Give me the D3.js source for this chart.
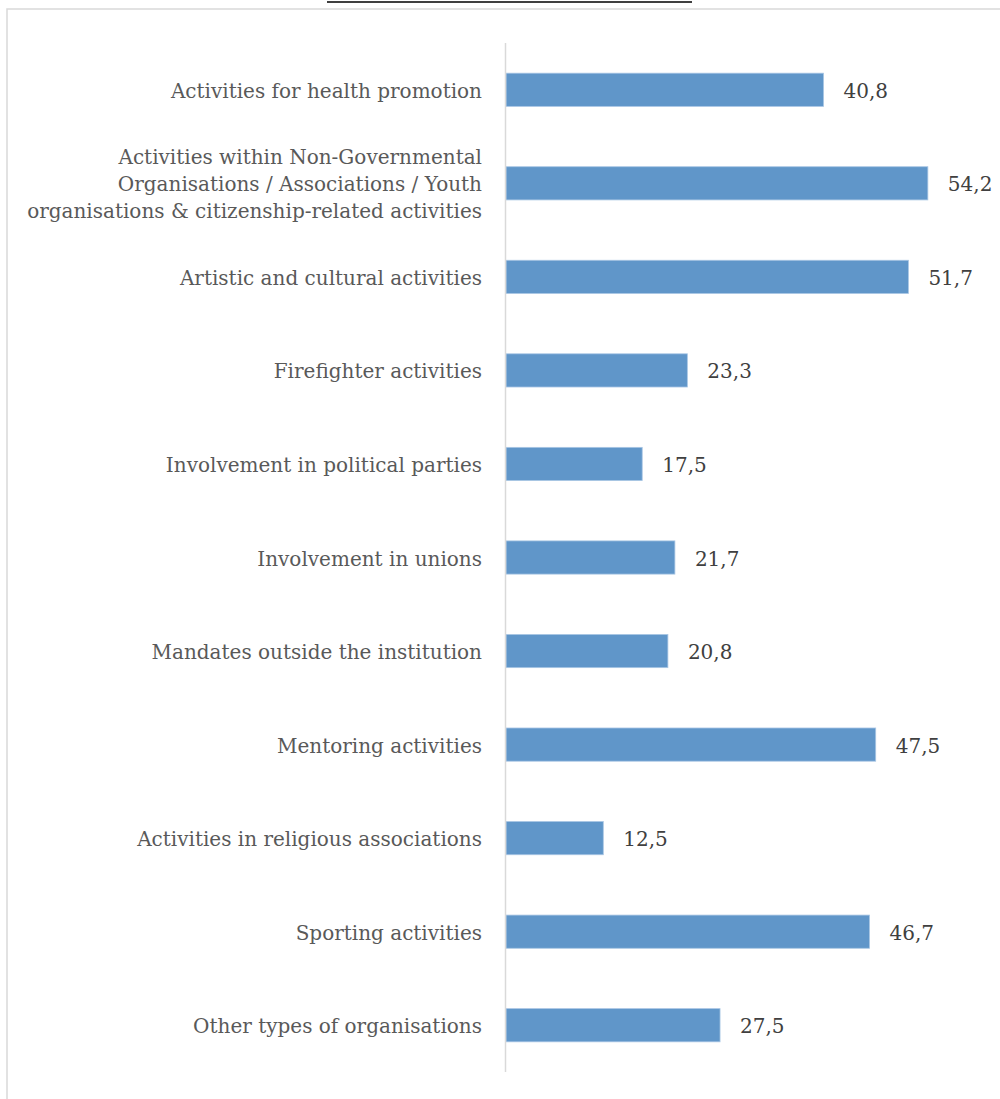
<!DOCTYPE html>
<html><head><meta charset="utf-8">
<script src="https://cdn.jsdelivr.net/npm/d3@7"></script>
<style>
html,body{margin:0;padding:0;background:#fff;}
svg{display:block;}
</style></head>
<body>
<svg id="chart" width="1000" height="1099"></svg>
<script>
const categories = [
  "Activities for health promotion",
  "Activities within Non-Governmental\nOrganisations / Associations / Youth\norganisations & citizenship-related activities",
  "Artistic and cultural activities",
  "Firefighter activities",
  "Involvement in political parties",
  "Involvement in unions",
  "Mandates outside the institution",
  "Mentoring activities",
  "Activities in religious associations",
  "Sporting activities",
  "Other types of organisations"
];
const values = [40.8, 54.2, 51.7, 23.3, 17.5, 21.7, 20.8, 47.5, 12.5, 46.7, 27.5];
const valueLabels = ["40,8","54,2","51,7","23,3","17,5","21,7","20,8","47,5","12,5","46,7","27,5"];

const svg = d3.select("#chart");
const FONT = "'DejaVu Serif', serif";
const FS = 20;

// title underline (cut-off title above)
svg.append("line").attr("x1",327).attr("x2",692).attr("y1",2).attr("y2",2)
  .attr("stroke","#000").attr("stroke-width",1.5);

// chart border
svg.append("rect").attr("x",7).attr("y",9).attr("width",1010).attr("height",1110)
  .attr("fill","none").attr("stroke","#d9d9d9").attr("stroke-width",1.5);

const x = d3.scaleLinear().domain([0, 60]).range([506, 973]);
const y = d3.scaleBand().domain(categories).range([43, 1072]).paddingInner(0.645).paddingOuter(0.3225);

const g = svg.append("g");

g.selectAll("rect.bar").data(values).join("rect")
  .attr("class","bar")
  .attr("x", x(0))
  .attr("y", (d,i)=>y(categories[i]))
  .attr("width", d=>x(d)-x(0))
  .attr("height", y.bandwidth())
  .attr("fill","#6096c9")
  .attr("stroke","#a9c6e4").attr("stroke-width",0.8);

// axis line
svg.append("line").attr("x1",505.5).attr("x2",505.5).attr("y1",43).attr("y2",1072)
  .attr("stroke","#d9d9d9").attr("stroke-width",1.5);

// value labels
g.selectAll("text.val").data(values).join("text")
  .attr("class","val")
  .attr("x", d=>x(d)+20)
  .attr("y", (d,i)=>y(categories[i]) + y.bandwidth()/2 + 1)
  .attr("dy","0.35em")
  .attr("font-family",FONT).attr("font-size",FS).attr("fill","#404040")
  .text((d,i)=>valueLabels[i]);

// category labels
const lineH = 27;
g.selectAll("text.cat").data(categories).join("text")
  .attr("class","cat")
  .attr("text-anchor","end")
  .attr("font-family",FONT).attr("font-size",FS).attr("fill","#595959")
  .each(function(c){
    const lines = c.split("\n");
    const cy = y(c) + y.bandwidth()/2 + 1;
    const t = d3.select(this);
    lines.forEach((ln,k)=>{
      t.append("tspan").attr("x",482)
        .attr("y", cy + (k - (lines.length-1)/2)*lineH)
        .attr("dy","0.35em").text(ln);
    });
  });
</script>
</body></html>
